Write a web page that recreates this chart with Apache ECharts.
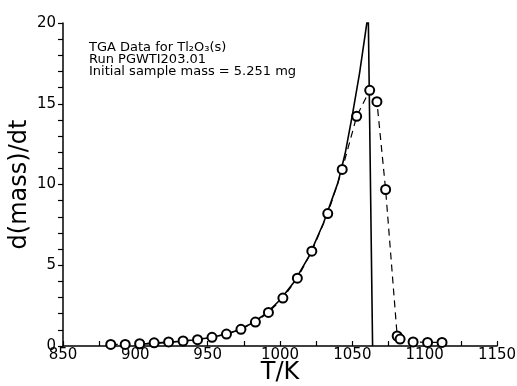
<!DOCTYPE html>
<html>
<head>
<meta charset="utf-8">
<script src="https://cdn.jsdelivr.net/npm/echarts@6/dist/echarts.min.js"></script>
<style>
  html, body { margin: 0; padding: 0; background: #fff; }
  #main { width: 517px; height: 386px; }
</style>
</head>
<body>
<div id="main"></div>
<script>
// measured points (open circles)
var tempK = [883, 893, 903, 913, 923, 933, 943, 953, 963, 973, 983, 992, 1002, 1012,
             1022, 1033, 1043, 1053, 1062, 1067, 1073, 1081, 1083, 1092, 1102, 1112];
var rate = [0.10, 0.10, 0.14, 0.20, 0.25, 0.31, 0.39, 0.54, 0.74, 1.03, 1.48, 2.08, 2.97, 4.20,
            5.87, 8.20, 10.93, 14.22, 15.83, 15.13, 9.69, 0.62, 0.43, 0.25, 0.22, 0.22];

// calculated curve (solid line)
var fitK = [900, 910, 920, 930, 940, 950, 960, 970, 980, 990, 1000, 1010, 1020, 1030,
            1040, 1045, 1050, 1055, 1061, 1064];
var fitRate = [0.10, 0.15, 0.21, 0.28, 0.37, 0.50, 0.68, 0.95, 1.38, 1.98, 2.85, 4.00, 5.55, 7.60,
               10.10, 11.90, 14.30, 16.90, 20.60, 0];

var xLabels = [850, 900, 950, 1000, 1050, 1100, 1150];

function pairs(xs, ys) {
    var out = [];
    for (var i = 0; i < xs.length; i++) out.push([xs[i], ys[i]]);
    return out;
}

var myChart = echarts.init(document.getElementById('main'));

var option = {
    backgroundColor: '#fff',
    animation: false,
    grid: {
        left: 63,
        right: 20,
        top: 23,
        bottom: 40,
        outerBoundsMode: 'none'
    },
    graphic: [
        {
            type: 'text',
            left: 89,
            top: 41,
            style: {
                text: 'TGA Data for Tl\u2082O\u2083(s)\nRun PGWTI203.01\nInitial sample mass = 5.251 mg',
                font: '13px "DejaVu Sans"',
                lineHeight: 12,
                fill: '#000'
            }
        }
    ],
    xAxis: {
        type: 'value',
        min: 850,
        max: 1150,
        interval: 25,
        name: 'T/K',
        nameLocation: 'middle',
        nameGap: 15,
        nameMoveOverlap: false,
        nameTextStyle: {
            color: '#000',
            fontSize: 24,
            fontFamily: 'DejaVu Sans'
        },
        splitLine: { show: false },
        axisLine: { lineStyle: { color: '#000', width: 1.5 } },
        axisTick: { inside: true, length: 5, lineStyle: { color: '#000', width: 1.2 } },
        axisLabel: {
            color: '#000',
            fontSize: 15,
            fontFamily: 'DejaVu Sans',
            margin: 2,
            formatter: function (v) {
                return xLabels.indexOf(v) >= 0 ? String(v) : '';
            }
        }
    },
    yAxis: {
        type: 'value',
        min: 0,
        max: 20,
        interval: 5,
        name: 'd(mass)/dt',
        nameLocation: 'middle',
        nameGap: 31,
        nameMoveOverlap: false,
        nameTextStyle: {
            color: '#000',
            fontSize: 24,
            fontFamily: 'DejaVu Sans'
        },
        splitLine: { show: false },
        axisLine: { show: true, lineStyle: { color: '#000', width: 1.5 } },
        axisTick: { show: true, length: 5, lineStyle: { color: '#000', width: 1.2 } },
        minorTick: { show: true, splitNumber: 5, length: 5, lineStyle: { color: '#000', width: 1.2 } },
        axisLabel: {
            color: '#000',
            fontSize: 15,
            fontFamily: 'DejaVu Sans',
            margin: 7
        }
    },
    series: [
        {
            name: 'calc',
            type: 'line',
            data: pairs(fitK, fitRate),
            smooth: false,
            showSymbol: false,
            lineStyle: { color: '#000', width: 1.6 },
            z: 3
        },
        {
            name: 'data',
            type: 'line',
            data: pairs(tempK, rate),
            symbol: 'emptyCircle',
            symbolSize: 9,
            showAllSymbol: true,
            itemStyle: { color: '#000', borderWidth: 1.3 },
            lineStyle: { color: '#000', width: 1.2, type: [7, 5] },
            z: 4
        }
    ]
};

myChart.setOption(option);
</script>
</body>
</html>
